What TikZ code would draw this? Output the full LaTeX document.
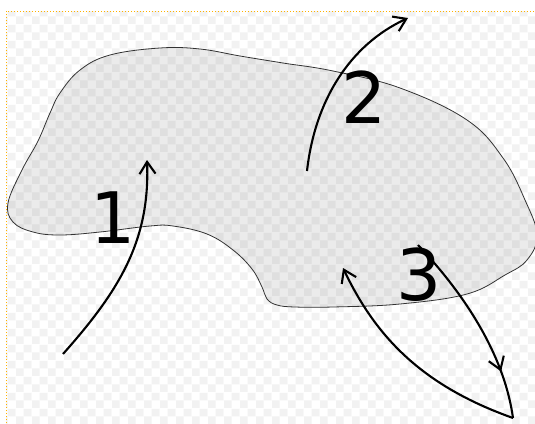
\documentclass[tikz,border=0pt]{standalone}
\usepackage{fontspec}
\setmainfont{DejaVu Sans}
\usetikzlibrary{arrows.meta,decorations.markings,patterns.meta}
\tikzdeclarepattern{
  name=checker,
  type=colored,
  bottom left={(0pt,0pt)},
  top right={(16pt,16pt)},
  tile size={(16pt,16pt)},
  code={
    \fill[white] (0pt,0pt) rectangle (16pt,16pt);
    \fill[black!5] (0pt,0pt) rectangle (8pt,8pt);
    \fill[black!5] (8pt,8pt) rectangle (16pt,16pt);
  }
}
\tikzset{
  blob/.style={fill=black, fill opacity=0.08, draw=black!80, draw opacity=1, line width=0.8pt},
  arr/.style={line width=2.1pt, -{Straight Barb[length=12pt,width=16pt]}},
  midarr/.style={line width=2.1pt, decoration={markings, mark=at position 0.76 with {\arrow{Straight Barb[length=12pt,width=16pt]}}}, postaction={decorate}},
  lbl/.style={inner sep=0pt, font=\fontsize{71}{71}\selectfont}
}
\begin{document}
\begin{tikzpicture}[x=1pt,y=-1pt]
\useasboundingbox (0,0) rectangle (535,423);
\fill[white] (0,0) rectangle (535,423);
\fill[pattern=checker] (6,11) rectangle (535,423);
\draw[orange!60!yellow, dotted, line width=1pt] (6,423) -- (6,11) -- (535,11);
% blob
\draw[blob] plot[smooth cycle, tension=0.65] coordinates {
  (8,203) (22,170) (38,141) (50,113) (60,93) (80,70) (110,55) (160,48)
  (200,49) (240,56) (283,63) (333,71) (400,88) (467,120) (503,158) (525,200)
  (537,235) (527,260) (505,275) (467,294) (400,304) (333,307) (295,307) (277,305)
  (267,299) (262,287) (252,269) (233,250) (207,234) (173,226) (150,226) (100,232)
  (60,235) (33,232) (13,222)};
% labels
\node[lbl] (n1) at (113,218) {1};
\node[lbl] (n2) at (364,97) {2};
\node[lbl] (n3) at (419,275) {3};
% arrows
\coordinate (a1s) at (63,354);
\coordinate (a1e) at (147,160);
\coordinate (a2s) at (307,171);
\coordinate (a2e) at (408,18);
\coordinate (a3s) at (418,245);
\coordinate (a3m) at (513,418);
\coordinate (a3e) at (343,268);
\draw[arr] (a1s) .. controls (120,290) and (150,240) .. (a1e);
\draw[arr] (a2s) .. controls (315,100) and (350,45) .. (a2e);
\draw[midarr] (a3s) .. controls (470,300) and (505,360) .. (a3m);
\draw[arr] (a3m) .. controls (420,385) and (375,335) .. (a3e);
\end{tikzpicture}
\end{document}
